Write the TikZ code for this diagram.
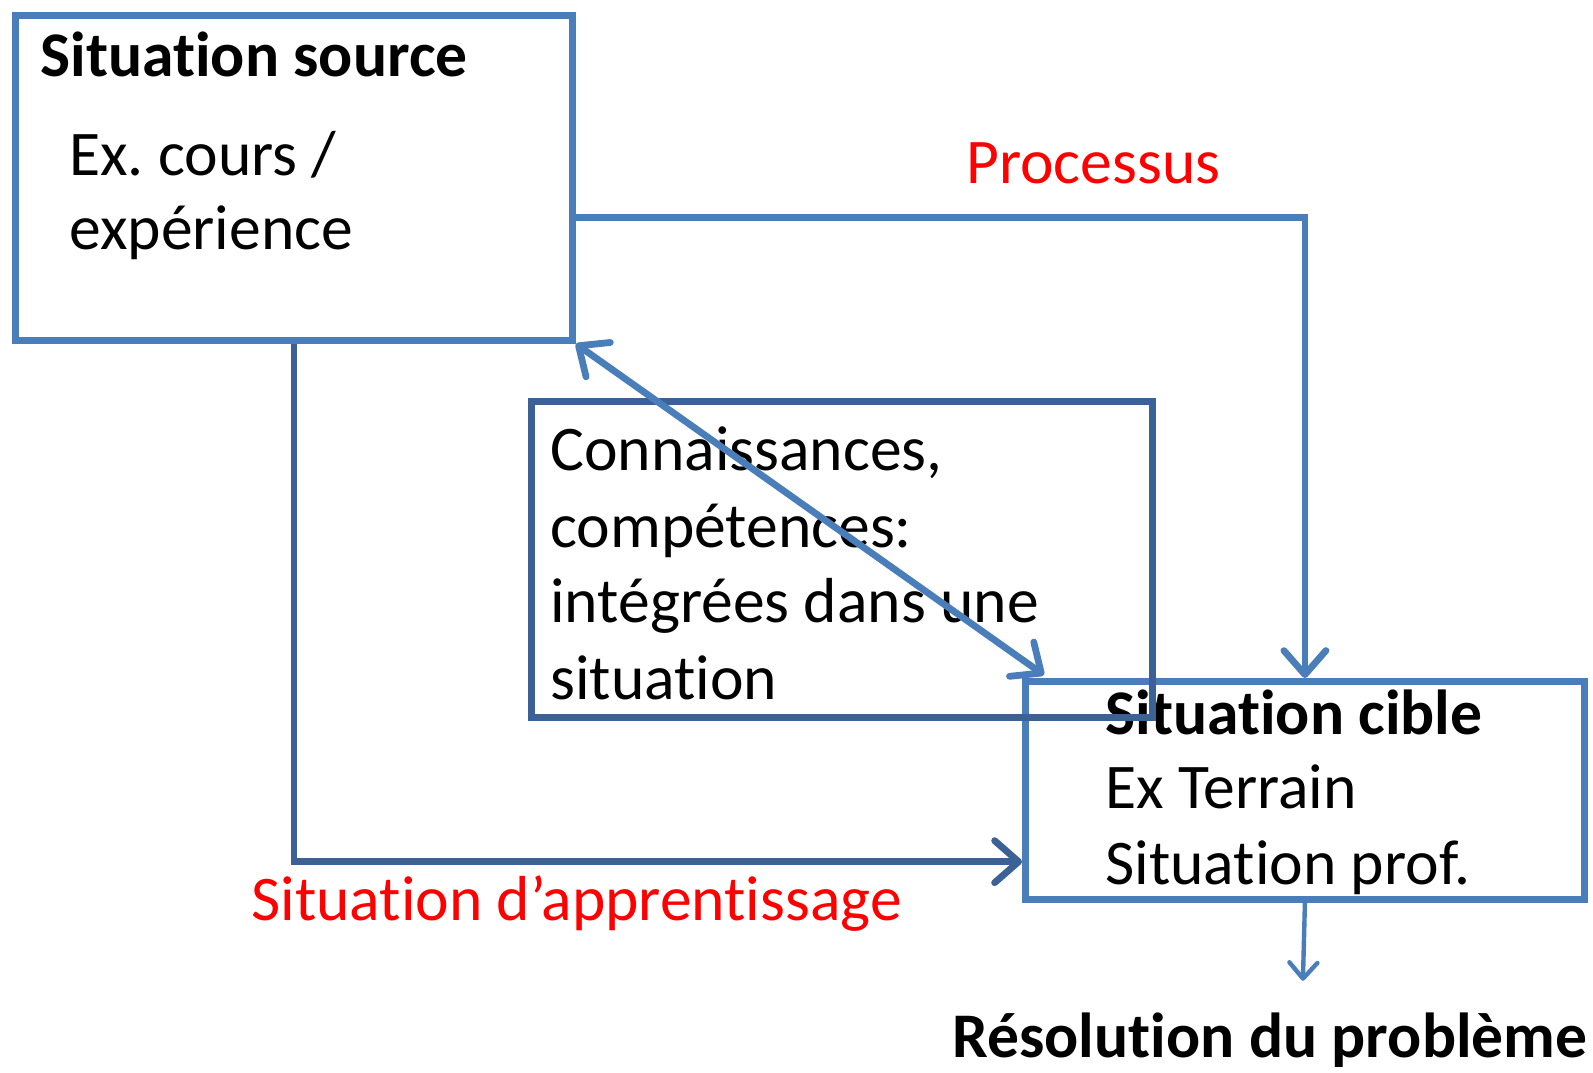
\documentclass[tikz,border=0pt]{standalone}
\usepackage{fontspec}
\setmainfont[Ligatures=NoCommon]{Carlito}
\usetikzlibrary{calc, positioning, arrows.meta}
\definecolor{boxblue}{HTML}{4A7EBB}
\definecolor{deepblue}{HTML}{3C6196}
\definecolor{labelred}{HTML}{FF0000}
\frenchspacing

\begin{document}
\begin{tikzpicture}[x=0.5pt, y=-0.5pt,
  framebox/.style={draw=#1, line width=3.4pt, inner sep=0pt, anchor=north west},
  txt/.style={anchor=base west, inner sep=0pt, font=\fontsize{31.8}{38}\selectfont},
  boldtxt/.style={txt, font=\fontsize{31.8}{38}\selectfont\bfseries},
  redtxt/.style={txt, text=labelred},
  barb/.tip={Straight Barb[round, length=12pt, width=21pt]},
  link/.style={draw=#1, line width=3.4pt}
]
\useasboundingbox (0,0) rectangle (1593,1072);

% Boxes
\node[framebox=boxblue, minimum width=278.5pt, minimum height=162.5pt] (source) at (12,12) {};
\node[framebox=boxblue, minimum width=279.5pt, minimum height=109pt] (cible) at (1022,678) {};

% Texts in the boxes
\node[boldtxt] (srctitle) at (40,76) {Situation source};
\node[txt] (srcex) at (69,175) {Ex. cours /};
\node[txt] (srcexp) at (69,249) {expérience};

\node[txt] (sav1) at (550,470) {Connaissances,};
\node[txt] (sav2) at (550,547) {compétences:};
\node[txt] (sav3) at (550,622) {intégrées dans une};
\node[txt] (sav4) at (550,699) {situation};

\node[boldtxt] (cibtitle) at (1105,734) {Situation cible};
\node[txt] (cibex) at (1105,808) {Ex Terrain};
\node[txt] (cibprof) at (1105,884) {Situation prof.};

% Middle box, drawn over the target box
\node[framebox=deepblue, minimum width=310.5pt, minimum height=158pt] (savoir) at (528,398) {};

% Labels
\node[redtxt] (processus) at (966,183) {Processus};
\node[redtxt] (apprent) at (251,920) {Situation d’apprentissage};
\node[boldtxt] (resolution) at (952,1057) {Résolution du problème};

% Connectors
\coordinate (pstart) at ($(source.north east)!0.62!(source.south east)$);
\coordinate (aend) at ($(cible.north west)!0.817!(cible.south west)$);
\coordinate (dend) at ($(cible.north west)+(22,-3)$);
\coordinate (resend) at ($(cible.south)+(-2,78)$);

\draw[link=boxblue, -barb] (pstart) -| (cible.north);
\draw[link=boxblue, barb-barb] (source.south east) -- (dend);
\draw[link=deepblue, -barb] (source.south) |- (aend);
\draw[draw=boxblue, line width=2.2pt, -{Straight Barb[round, length=8pt, width=14pt]}] (cible.south) -- (resend);
\end{tikzpicture}
\end{document}
